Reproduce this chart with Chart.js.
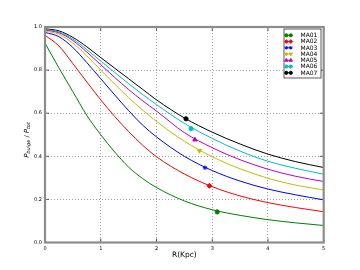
<!DOCTYPE html>
<html><head><meta charset="utf-8">
<script src="https://cdn.jsdelivr.net/npm/chart.js@4"></script>
<style>html,body{margin:0;padding:0;background:#fff}#wrap{width:360px;height:270px}</style>
</head><body><div id="wrap"><canvas id="c" width="360" height="270"></canvas></div>
<script>
const xVals = [0, 0.25, 0.5, 0.75, 1, 1.25, 1.5, 1.75, 2, 2.5, 3, 3.5, 4, 4.5, 5];
const names = ['MA01','MA02','MA03','MA04','MA05','MA06','MA07'];
const MA01 = [0.925, 0.81, 0.70, 0.59, 0.50, 0.42, 0.35, 0.297, 0.255, 0.193, 0.152, 0.126, 0.106, 0.091, 0.079];
const MA02 = [0.962, 0.912, 0.83, 0.745, 0.662, 0.585, 0.515, 0.452, 0.398, 0.318, 0.259, 0.216, 0.185, 0.162, 0.143];
const MA03 = [0.975, 0.955, 0.905, 0.835, 0.76, 0.685, 0.612, 0.545, 0.49, 0.40, 0.334, 0.285, 0.248, 0.221, 0.198];
const MA04 = [0.982, 0.966, 0.925, 0.866, 0.80, 0.735, 0.672, 0.615, 0.562, 0.47, 0.398, 0.342, 0.298, 0.266, 0.244];
const MA05 = [0.986, 0.973, 0.937, 0.884, 0.825, 0.766, 0.71, 0.658, 0.61, 0.51, 0.44, 0.384, 0.34, 0.307, 0.283];
const MA06 = [0.989, 0.977, 0.944, 0.895, 0.842, 0.789, 0.737, 0.687, 0.64, 0.553, 0.483, 0.424, 0.377, 0.344, 0.317];
const MA07 = [0.992, 0.982, 0.952, 0.908, 0.858, 0.809, 0.76, 0.711, 0.662, 0.578, 0.512, 0.457, 0.41, 0.375, 0.348];
const markX = [3.09, 2.95, 2.87, 2.77, 2.69, 2.62, 2.53];
const markY = [0.142, 0.263, 0.347, 0.426, 0.477, 0.528, 0.574];
const xTicks = [0, 1, 2, 3, 4, 5];
const yTicks = [0.0, 0.2, 0.4, 0.6, 0.8, 1.0];

const series = [MA01, MA02, MA03, MA04, MA05, MA06, MA07];
const colors = ['#008000','#ff0000','#0000ff','#bfbf00','#bf00bf','#00bfbf','#000000'];
const styles = [
  {pointStyle:'circle', rotation:0, radius:2.1},
  {pointStyle:'rectRot', rotation:0, radius:2.5},
  {pointStyle:'star', rotation:0, radius:2.3},
  {pointStyle:'triangle', rotation:180, radius:2.5},
  {pointStyle:'triangle', rotation:0, radius:2.5},
  {pointStyle:'circle', rotation:0, radius:2.1},
  {pointStyle:'circle', rotation:0, radius:2.1}
];

const datasets = [];
series.forEach((s, i) => {
  datasets.push({
    label: names[i],
    data: xVals.map((x, j) => ({x: x, y: s[j]})),
    borderColor: colors[i], backgroundColor: colors[i],
    borderWidth: 1, pointRadius: 0, showLine: true, fill: false,
    cubicInterpolationMode: 'monotone'
  });
});
series.forEach((s, i) => {
  datasets.push({
    label: names[i] + ' marker',
    data: [{x: markX[i], y: markY[i]}],
    borderColor: colors[i], backgroundColor: colors[i],
    pointStyle: styles[i].pointStyle, rotation: styles[i].rotation,
    pointRadius: styles[i].radius, borderWidth: 1, showLine: false
  });
});

const FONT = 'DejaVu Sans';
const deco = {
  id: 'deco',
  afterDraw(chart) {
    const ctx = chart.ctx, a = chart.chartArea;
    const xs = chart.scales.x, ys = chart.scales.y;
    ctx.save();
    ctx.strokeStyle = '#333'; ctx.lineWidth = 0.8;
    xTicks.forEach(t => {
      const px = xs.getPixelForValue(t);
      ctx.beginPath(); ctx.moveTo(px, a.bottom); ctx.lineTo(px, a.bottom - 4);
      ctx.moveTo(px, a.top); ctx.lineTo(px, a.top + 4); ctx.stroke();
    });
    yTicks.forEach(t => {
      const py = ys.getPixelForValue(t);
      ctx.beginPath(); ctx.moveTo(a.left, py); ctx.lineTo(a.left + 4, py);
      ctx.moveTo(a.right, py); ctx.lineTo(a.right - 4, py); ctx.stroke();
    });
    ctx.strokeStyle = '#8c8c8c'; ctx.lineWidth = 2.2;
    ctx.strokeRect(a.left, a.top, a.right - a.left, a.bottom - a.top);
    ctx.fillStyle = '#000';
    ctx.font = '7.5px "' + FONT + '"';
    ctx.textAlign = 'center'; ctx.textBaseline = 'middle';
    ctx.fillText('R(Kpc)', (a.left + a.right) / 2, 255.5);
    ctx.save();
    ctx.translate(27, 140);
    ctx.rotate(-Math.PI / 2);
    const parts = [
      {t:'P', f:'italic 7px "' + FONT + '"', dy:0},
      {t:'bulge', f:'italic 5px "' + FONT + '"', dy:1.8},
      {t:' / ', f:'6.5px "' + FONT + '"', dy:0},
      {t:'P', f:'italic 7px "' + FONT + '"', dy:0},
      {t:'tot', f:'italic 5px "' + FONT + '"', dy:1.8}
    ];
    let w = 0;
    parts.forEach(p => { ctx.font = p.f; w += ctx.measureText(p.t).width; });
    let cx = -w / 2;
    ctx.textAlign = 'left'; ctx.textBaseline = 'middle';
    parts.forEach(p => { ctx.font = p.f; ctx.fillText(p.t, cx, p.dy); cx += ctx.measureText(p.t).width; });
    ctx.restore();
    const lx = 284, ly = 29, lw = 37, lh = 49;
    ctx.fillStyle = '#fff'; ctx.fillRect(lx, ly, lw, lh);
    ctx.strokeStyle = '#333'; ctx.lineWidth = 0.8; ctx.strokeRect(lx, ly, lw, lh);
    names.forEach((n, i) => {
      const yy = 35.3 + i * 6.25;
      const x1 = 286.3, x2 = 290.8;
      ctx.strokeStyle = colors[i]; ctx.lineWidth = 1;
      ctx.beginPath(); ctx.moveTo(x1, yy); ctx.lineTo(x2, yy); ctx.stroke();
      [x1, x2].forEach(px => {
        ctx.fillStyle = colors[i]; ctx.strokeStyle = colors[i];
        Chart.helpers.drawPoint(ctx, {pointStyle: styles[i].pointStyle, rotation: styles[i].rotation, radius: styles[i].radius * 0.75, borderWidth: 1}, px, yy);
      });
      ctx.fillStyle = '#000';
      ctx.font = '6px "' + FONT + '"';
      ctx.textAlign = 'left'; ctx.textBaseline = 'middle';
      ctx.fillText(n, 300.5, yy + 0.3);
    });
    ctx.restore();
  }
};

new Chart(document.getElementById('c'), {
  type: 'scatter',
  data: { datasets: datasets },
  options: {
    responsive: false, animation: false,
    layout: { padding: { left: 0, right: 36.3, top: 27, bottom: 0 } },
    plugins: { legend: { display: false }, tooltip: { enabled: false } },
    scales: {
      x: {
        type: 'linear', min: 0, max: 5,
        afterFit: s => { s.height = 27.5; },
        afterBuildTicks: s => { s.ticks = xTicks.map(v => ({value: v})); },
        ticks: { autoSkip: false, maxRotation: 0, padding: 3, color: '#000',
          font: { family: FONT, size: 5 }, callback: v => String(v) },
        grid: { color: '#8a8a8a', lineWidth: 0.8, drawTicks: false },
        border: { display: false, dash: [1, 2] }
      },
      y: {
        type: 'linear', min: 0, max: 1,
        afterFit: s => { s.width = 45; },
        afterBuildTicks: s => { s.ticks = yTicks.map(v => ({value: v})); },
        ticks: { autoSkip: false, padding: 3, color: '#000',
          font: { family: FONT, size: 5 }, callback: v => Number(v).toFixed(1) },
        grid: { color: '#8a8a8a', lineWidth: 0.8, drawTicks: false },
        border: { display: false, dash: [1, 2] }
      }
    }
  },
  plugins: [deco]
});
</script>
</body></html>
